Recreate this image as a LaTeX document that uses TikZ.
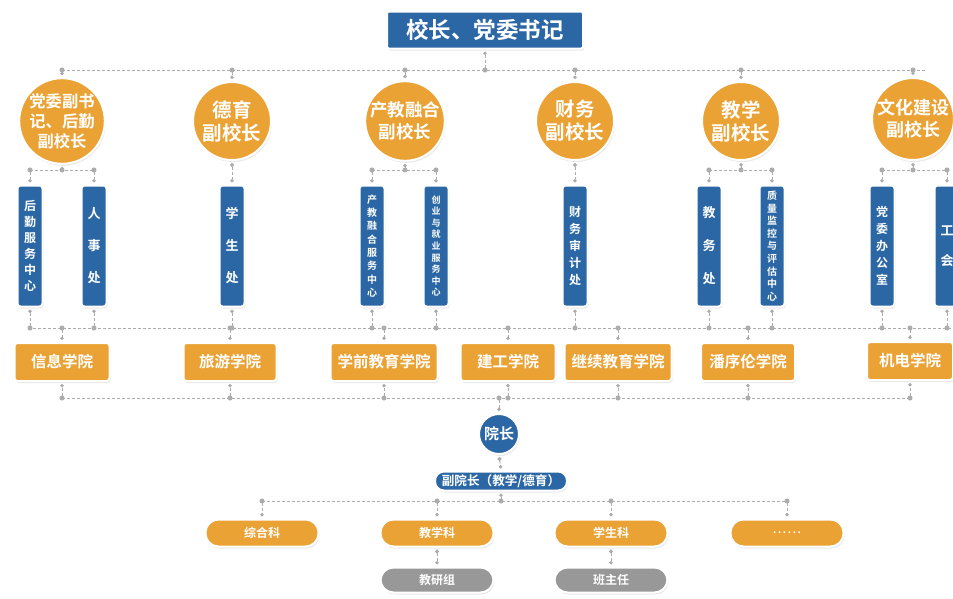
\documentclass[tikz,border=0pt]{standalone}
\usepackage{fontspec}
\setmainfont{Noto Sans CJK SC}[BoldFont={Noto Sans CJK SC Bold}]
\usepackage{xcolor}
\usetikzlibrary{positioning,shadows,arrows.meta}
\definecolor{schoolblue}{RGB}{44,103,165}
\definecolor{schoolorange}{RGB}{234,162,52}
\definecolor{schoolgray}{RGB}{152,152,152}
\definecolor{linkgray}{RGB}{172,172,172}
\newcommand{\fs}[2]{\bfseries\fontsize{#1}{#2}\selectfont}

\tikzset{
    card/.style={draw=white, line width=2pt, text=white, inner sep=0pt,
        drop shadow={opacity=0.18, shadow xshift=1pt, shadow yshift=-2pt}},
    leader/.style={card, circle, fill=schoolorange, minimum size=78pt, align=center, font=\fs{19.5}{23}},
    dept/.style={card, rounded corners=3pt, fill=schoolblue, minimum width=25pt, minimum height=121pt, align=center},
    college/.style={card, rounded corners=3pt, fill=schoolorange, minimum height=38pt, font=\fs{15.5}{15.5}},
    section/.style={card, rounded corners=13pt, fill=schoolorange, minimum width=113pt, minimum height=27pt, font=\fs{12}{12}},
    link/.style={draw=linkgray, line width=0.9pt, dash pattern=on 3pt off 2pt},
    joint/.style={link, {Circle[length=5pt]}-{Circle[length=3.5pt]}, shorten <=-2.5pt, shorten >=2pt},
    pair/.style={link, {Circle[length=4pt]}-{Circle[length=3.5pt]}, shorten <=2pt, shorten >=2pt},
}

\begin{document}
\begin{tikzpicture}[x=1pt, y=-1pt]
\useasboundingbox (0,0) rectangle (953,598);
\clip (0,0) rectangle (953,598);

% top
\node[card, fill=schoolblue, rounded corners=2pt, minimum width=196pt, minimum height=37pt, font=\fs{22.5}{22.5}] (head) at (485,30) {校长、党委书记};

% vice presidents
\node[leader, font=\fs{16.3}{20}] (v1) at (62,121) {党委副书\\记、后勤\\副校长};
\node[leader] (v2) at (232,121) {德育\\副校长};
\node[leader, font=\fs{17.5}{22}] (v3) at (405,121) {产教融合\\副校长};
\node[leader] (v4) at (575,121) {财务\\副校长};
\node[leader] (v5) at (741,121) {教学\\副校长};
\node[leader, font=\fs{18}{22}] (v6) at (913,119) {文化建设\\副校长};

% departments
\foreach \i/\x/\size/\skip/\txt in {
    1/30/12/16/{后\\勤\\服\\务\\中\\心},
    2/94/13/32/{人\\事\\处},
    3/232/13/32/{学\\生\\处},
    4/372/10/13.3/{产\\教\\融\\合\\服\\务\\中\\心},
    5/436/9/11.6/{创\\业\\与\\就\\业\\服\\务\\中\\心},
    6/575/12/17/{财\\务\\审\\计\\处},
    7/709/13/33/{教\\务\\处},
    8/772/10/12.6/{质\\量\\监\\控\\与\\评\\估\\中\\心},
    9/882/12/17/{党\\委\\办\\公\\室},
    10/947/13/30/{工\\会}}
    \node[dept, font=\fs{\size}{\skip}] (d\i) at (\x,246) {\txt};

% colleges
\node[college, minimum width=95pt] (c1) at (62,362) {信息学院};
\node[college, minimum width=93pt] (c2) at (230,362) {旅游学院};
\node[college, minimum width=107pt] (c3) at (384,362) {学前教育学院};
\node[college, minimum width=95pt] (c4) at (508,362) {建工学院};
\node[college, minimum width=107pt] (c5) at (618,362) {继续教育学院};
\node[college, minimum width=94pt] (c6) at (748,362) {潘序伦学院};
\node[college, minimum width=86pt] (c7) at (910,361) {机电学院};

% college level
\node[card, circle, fill=schoolblue, minimum size=40pt, font=\fs{15}{15}] (dean) at (499,434) {院长};
\node[card, rounded corners=9pt, fill=schoolblue, minimum width=132pt, minimum height=19pt, font=\fs{12.6}{12.6}] (vice) at (501,481) {副院长（教学/德育）};
\node[section] (s1) at (262,533) {综合科};
\node[section] (s2) at (437,533) {教学科};
\node[section] (s3) at (611,533) {学生科};
\node[section, font=\fs{10}{10}] (s4) at (787,533) {.\,.\,.\,.\,.\,.};
\node[section, fill=schoolgray, minimum height=25pt] (g1) at (437,580) {教研组};
\node[section, fill=schoolgray, minimum height=25pt] (g2) at (611,580) {班主任};

% connectors
\coordinate (bus1) at (62,70);
\coordinate (sub) at (0,170);
\coordinate (bus2) at (28,328);
\coordinate (bus3) at (62,398);
\coordinate (bus4) at (0,501);
\draw[link] (bus1) -- (926,70);
\draw[joint] (head |- bus1) -- (head.south);
\foreach \i in {1,...,6}
    \draw[joint] (v\i |- bus1) -- (v\i.north);

\foreach \v/\a/\b in {v1/d1/d2, v3/d4/d5, v5/d7/d8, v6/d9/d10} {
    \draw[link] (\a |- sub) -- (\b |- sub);
    \draw[joint] (\v |- sub) -- (\v.south);
    \draw[joint] (\a |- sub) -- (\a.north);
    \draw[joint] (\b |- sub) -- (\b.north);
}
\draw[pair] (v2.south) -- (d3.north);
\draw[pair] (v4.south) -- (d6.north);

\draw[link] (bus2) -- (960,328);
\foreach \i in {1,...,10}
    \draw[joint] (d\i |- bus2) -- (d\i.south);
\foreach \i in {1,...,7}
    \draw[joint] (c\i |- bus2) -- (c\i.north);

\draw[link] (bus3) -- (c7 |- bus3);
\foreach \i in {1,...,7}
    \draw[joint] (c\i |- bus3) -- (c\i.south);
\draw[joint] (dean |- bus3) -- (dean.north);
\draw[pair] (dean.south) -- (vice.north);

\draw[link] (s1 |- bus4) -- (s4 |- bus4);
\draw[joint] (vice |- bus4) -- (vice.south);
\foreach \i in {1,...,4}
    \draw[joint] (s\i |- bus4) -- (s\i.north);
\draw[pair] (s2.south) -- (g1.north);
\draw[pair] (s3.south) -- (g2.north);
\end{tikzpicture}
\end{document}
